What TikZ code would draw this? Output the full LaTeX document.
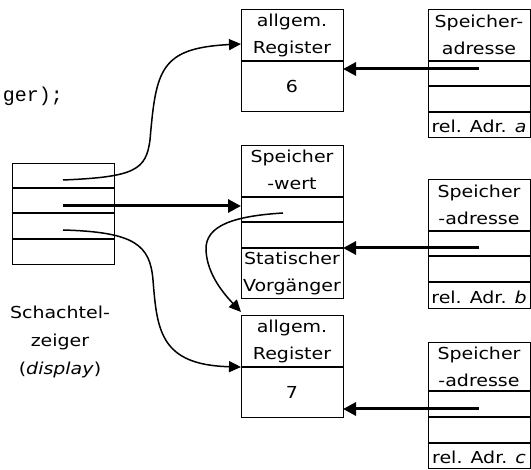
\documentclass[tikz,border=0pt]{standalone}
\usepackage{fontspec}
\setmainfont{DejaVu Sans}[FakeStretch=1.15]
\newfontfamily\codefont{Liberation Mono}
\usetikzlibrary{arrows.meta}
\tikzset{
  cell/.style={draw, line width=0.8pt, inner sep=0pt, anchor=north west},
  sep/.style={line width=1.7pt},
  txt/.style={font=\fontsize{16.5}{27}\selectfont, align=center, inner sep=0pt},
  bigptr/.style={line width=3pt, -{Triangle[length=13pt,width=13pt]}},
  curveptr/.style={line width=1.5pt, -{Triangle[length=12pt,width=11pt]}},
}
\begin{document}
\begin{tikzpicture}[x=1pt,y=-1pt]
\useasboundingbox (0,0) rectangle (531,470);
% code remnant
\node[font=\codefont\fontsize{20}{20}\selectfont, anchor=base east, inner sep=0pt] (code) at (63,102) {ger);};
% display
\node[cell, minimum width=102pt, minimum height=101pt] (disp) at (12,163) {};
\draw[sep] (12,188) -- (114,188) (12,213) -- (114,213) (12,239) -- (114,239);
\node[txt, font=\fontsize{16.5}{28}\selectfont] (displabel) at (60,342) {Schachtel-\\zeiger\\(\textit{display})};
% box A
\node[cell, minimum width=102pt, minimum height=102pt] (A) at (241,9) {};
\draw[sep] (241,61) -- (343,61);
\node[txt] (Atop) at (292,35) {allgem.\\Register};
\node[txt] (Aval) at (292,86) {6};
% box B
\node[cell, minimum width=102pt, minimum height=153pt] (B) at (241,145) {};
\draw[sep] (241,197) -- (343,197) (241,222) -- (343,222) (241,248) -- (343,248);
\node[txt] (Btop) at (292,170) {Speicher\\-wert};
\node[txt] (Bbot) at (292,273) {Statischer\\Vorgänger};
% box C
\node[cell, minimum width=102pt, minimum height=102pt] (C) at (241,315) {};
\draw[sep] (241,367) -- (343,367);
\node[txt] (Ctop) at (292,341) {allgem.\\Register};
\node[txt] (Cval) at (292,392) {7};
% SA
\node[cell, minimum width=102pt, minimum height=128pt] (SA) at (428,9) {};
\draw[sep] (428,61) -- (530,61) (428,86) -- (530,86) (428,112) -- (530,112);
\node[txt] (SAtop) at (479,35) {Speicher-\\adresse};
\node[txt, anchor=base] (SAbot) at (479,133) {rel. Adr. \textit{a}};
% SB
\node[cell, minimum width=102pt, minimum height=129pt] (SB) at (428,179) {};
\draw[sep] (428,231) -- (530,231) (428,256) -- (530,256) (428,282) -- (530,282);
\node[txt] (SBtop) at (479,205) {Speicher\\-adresse};
\node[txt, anchor=base] (SBbot) at (479,304) {rel. Adr. \textit{b}};
% SC
\node[cell, minimum width=102pt, minimum height=126pt] (SC) at (428,342) {};
\draw[sep] (428,391) -- (530,391) (428,417) -- (530,417) (428,443) -- (530,443);
\node[txt] (SCtop) at (479,367) {Speicher\\-adresse};
\node[txt, anchor=base] (SCbot) at (479,464) {rel. Adr. \textit{c}};
% coordinates
\coordinate (d1) at (63,180);
\coordinate (d2) at (63,206);
\coordinate (d3) at (63,230);
\coordinate (b2) at (283,213);
\coordinate (Ain) at (241,44);
\coordinate (Bin) at (241,206);
\coordinate (Cin) at (241,367);
\coordinate (Ctop) at (241,312);
\coordinate (sa) at (479,69);
\coordinate (sb) at (479,248);
\coordinate (sc) at (479,409);
\coordinate (Aout) at (343,69);
\coordinate (Bout) at (343,248);
\coordinate (Cout) at (343,409);
% arrows
\draw[bigptr] (sa) -- (Aout);
\draw[bigptr] (sb) -- (Bout);
\draw[bigptr] (sc) -- (Cout);
\draw[bigptr] (d2) -- (Bin);
\draw[curveptr] (d1) .. controls (135,177) and (146,170) .. (150,140) .. controls (156,70) and (160,48) .. (Ain);
\draw[curveptr] (d3) .. controls (135,232) and (150,245) .. (153,280) .. controls (157,330) and (160,365) .. (Cin);
\draw[curveptr] (b2) .. controls (235,216) and (205,225) .. (206,250) .. controls (207,275) and (225,295) .. (Ctop);
\end{tikzpicture}
\end{document}
